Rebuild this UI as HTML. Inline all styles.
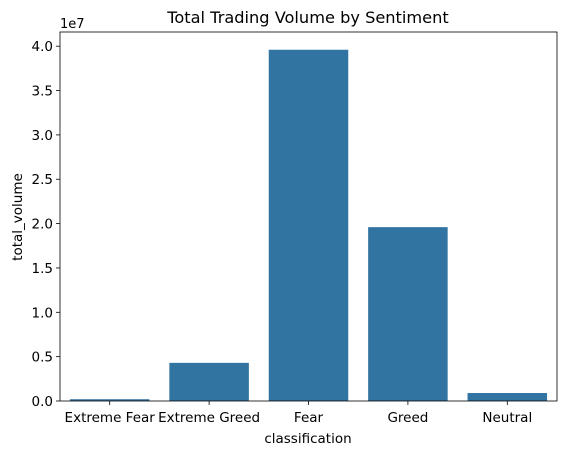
<!DOCTYPE html>
<html><head><meta charset="utf-8"><style>
body{margin:0;background:#fff}
svg text{font-family:"DejaVu Sans","Liberation Sans",sans-serif;fill:#000}
</style></head><body>
<svg width="567" height="455" id="c">
<text x="308" y="23" font-size="16.2" text-anchor="middle">Total Trading Volume by Sentiment</text>
<text x="60" y="28" font-size="13">1e7</text>
<text x="308" y="443" font-size="13.5" text-anchor="middle">classification</text>
<text transform="translate(22,217) rotate(-90)" font-size="13.5" text-anchor="middle">total_volume</text>
<g id="g"></g>
</svg>
<script>
const categories=["Extreme Fear","Extreme Greed","Fear","Greed","Neutral"];
const values=[0.02,0.43,3.96,1.96,0.09];
const yTicks=[0,0.5,1.0,1.5,2.0,2.5,3.0,3.5,4.0];
const L=60,R=557,T=32,B=401,ymax=4.16;
const y=v=>B-(v/ymax)*(B-T);
const slot=(R-L)/categories.length;
const x=i=>L+slot*(i+0.5);
const g=document.getElementById('g');
const ns="http://www.w3.org/2000/svg";
function mk(t,a){const e=document.createElementNS(ns,t);for(const k in a)e.setAttribute(k,a[k]);g.appendChild(e);return e;}
values.forEach((v,i)=>{
const r=mk('rect',{x:x(i)-slot*0.4,y:y(v),width:slot*0.8,height:B-y(v),fill:'#3274a1'});


const t=mk('line',{x1:x(i),x2:x(i),y1:B,y2:B+4,stroke:'#000','stroke-width':0.8});


const l=mk('text',{x:x(i),y:B+21,'font-size':13.5,'text-anchor':'middle'});
l.textContent=categories[i];


});
yTicks.forEach(v=>{
const t=mk('line',{x1:L-4,x2:L,y1:y(v),y2:y(v),stroke:'#000','stroke-width':0.8});


const l=mk('text',{x:L-7,y:y(v)+5,'font-size':13.5,'text-anchor':'end'});
l.textContent=v.toFixed(1);


});
const f=mk('rect',{x:L,y:T,width:R-L,height:B-T,fill:'none',stroke:'#000','stroke-width':0.8});


</script>
</body></html>
